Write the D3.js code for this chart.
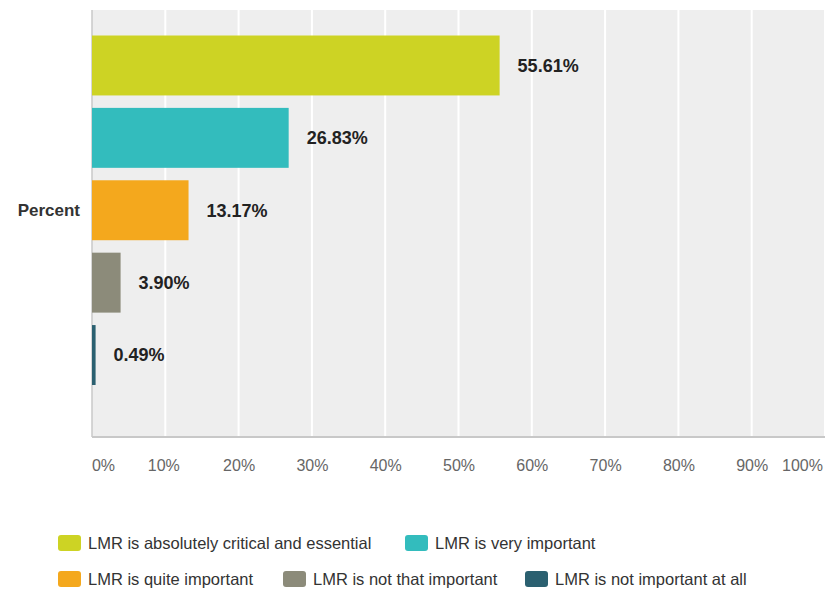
<!DOCTYPE html>
<html>
<head>
<meta charset="utf-8">
<script src="https://cdn.jsdelivr.net/npm/d3@7"></script>
<style>
  body { margin: 0; background: #fff; }
  svg { font-family: "Liberation Sans", Arial, sans-serif; }
</style>
</head>
<body>
<svg width="826" height="590"></svg>
<script>
const categories = [
  "LMR is absolutely critical and essential",
  "LMR is very important",
  "LMR is quite important",
  "LMR is not that important",
  "LMR is not important at all"
];
const values = [55.61, 26.83, 13.17, 3.90, 0.49];
const colors = ["#cdd324", "#33bcbd", "#f4a81d", "#8c8b7a", "#2b6070"];
const ticks = [0, 10, 20, 30, 40, 50, 60, 70, 80, 90, 100];

const svg = d3.select("svg");

// plot area
const plotL = 92, plotR = 825, plotT = 10, plotB = 437;

const x = d3.scaleLinear().domain([0, 100]).range([plotL, plotR]);
const y = d3.scaleBand().domain(categories).range([35.5, 385])
  .paddingInner(0.172).paddingOuter(0);
const color = d3.scaleOrdinal().domain(categories).range(colors);

svg.append("rect")
  .attr("x", plotL).attr("y", plotT)
  .attr("width", plotR - plotL).attr("height", plotB - plotT)
  .attr("fill", "#eeeeee");

// gridlines
svg.append("g").selectAll("line")
  .data(ticks.slice(1))
  .join("line")
  .attr("x1", d => x(d)).attr("x2", d => x(d))
  .attr("y1", plotT).attr("y2", plotB)
  .attr("stroke", "#fff").attr("stroke-width", 2);

// axis lines
svg.append("line")
  .attr("x1", plotL).attr("x2", plotL).attr("y1", plotT).attr("y2", plotB)
  .attr("stroke", "#c8c8c8").attr("stroke-width", 1.5);
svg.append("line")
  .attr("x1", plotL).attr("x2", plotR).attr("y1", plotB).attr("y2", plotB)
  .attr("stroke", "#c8c8c8").attr("stroke-width", 2);

// x tick labels
const xAxis = d3.axisBottom(x).tickValues(ticks).tickSize(0).tickFormat(d => d + "%");
const gx = svg.append("g").attr("transform", `translate(0,${plotB + 20})`).call(xAxis);
gx.select(".domain").remove();
gx.selectAll("text")
  .attr("font-size", 16).attr("fill", "#666")
  .attr("font-family", "Liberation Sans, Arial, sans-serif")
  .attr("dx", (d, i) => i === 0 ? 11 : (i === 10 ? -23 : (i === 1 ? -2 : 0)));

// bars
svg.append("g").selectAll("rect")
  .data(categories)
  .join("rect")
  .attr("x", plotL)
  .attr("y", d => y(d))
  .attr("width", (d, i) => Math.max(x(values[i]) - plotL, 1.5))
  .attr("height", y.bandwidth())
  .attr("fill", d => color(d));

// value labels
svg.append("g").selectAll("text")
  .data(categories)
  .join("text")
  .attr("x", (d, i) => x(values[i]) + 18)
  .attr("y", d => y(d) + y.bandwidth() / 2)
  .attr("dy", "0.35em")
  .attr("font-size", 18).attr("font-weight", "bold").attr("fill", "#222")
  .text((d, i) => values[i].toFixed(2) + "%");

svg.append("text")
  .attr("x", 80).attr("y", 210).attr("dy", "0.35em")
  .attr("text-anchor", "end")
  .attr("font-size", 17).attr("font-weight", "bold").attr("fill", "#333")
  .text("Percent");

// legend
const legendPos = [[58, 543], [405, 543], [58, 579], [283, 579], [525, 579]];
const lg = svg.append("g").selectAll("g")
  .data(categories)
  .join("g")
  .attr("transform", (d, i) => `translate(${legendPos[i][0]},${legendPos[i][1]})`);
lg.append("rect")
  .attr("x", 0).attr("y", -8).attr("width", 23).attr("height", 16).attr("rx", 3)
  .attr("fill", d => color(d));
lg.append("text")
  .attr("x", 30).attr("dy", "0.35em")
  .attr("font-size", 16.5).attr("fill", "#333")
  .text(d => d);
</script>
</body>
</html>
